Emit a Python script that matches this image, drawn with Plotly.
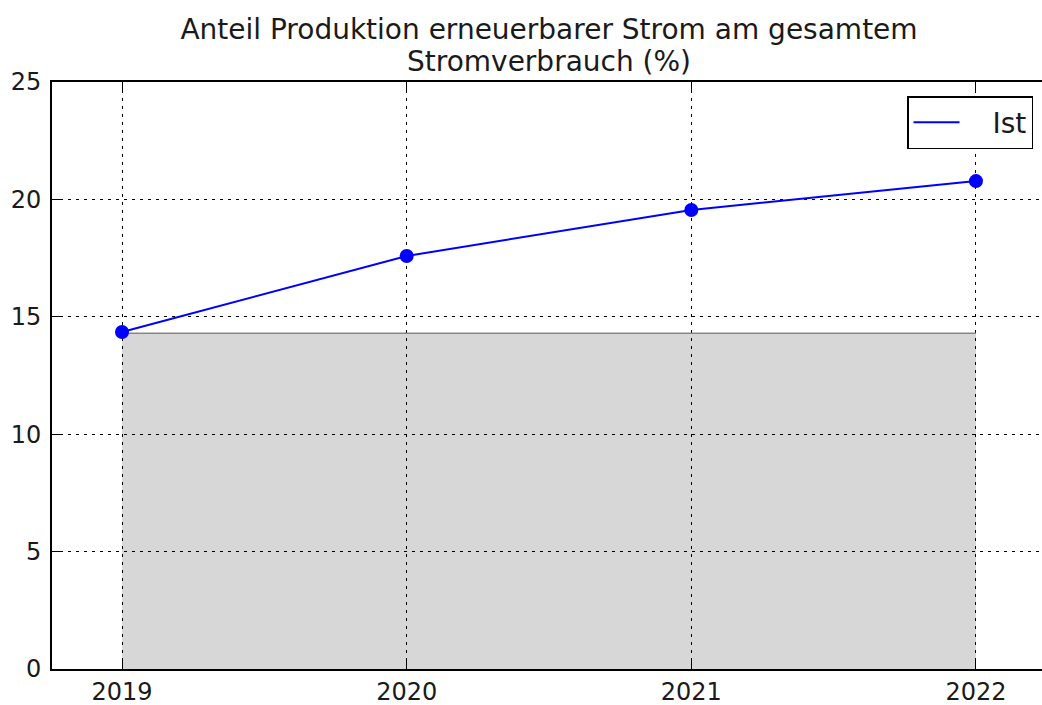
import plotly.graph_objects as go

years = [2019, 2020, 2021, 2022]
ist_values = [14.35, 17.59, 19.55, 20.78]
band_values = [14.3, 14.3, 14.3, 14.3]
y_ticks = [0, 5, 10, 15, 20, 25]
title_line1 = "Anteil Produktion erneuerbarer Strom am gesamtem"
title_line2 = "Stromverbrauch (%)"

fig = go.Figure()
fig.add_trace(go.Scatter(
    x=years, y=band_values, mode="lines", fill="tozeroy",
    fillcolor="rgba(0,0,0,0.155)", line=dict(color="rgba(110,110,110,0.8)", width=1.5),
    showlegend=False, hoverinfo="skip"))
fig.add_trace(go.Scatter(
    x=years, y=ist_values, mode="lines+markers", name="Ist", showlegend=False,
    line=dict(color="#0000ff", width=2), marker=dict(color="#0000ff", size=14)))
# legend entry: line only (as in the reference)
fig.add_trace(go.Scatter(
    x=[None], y=[None], mode="lines", name="\u2003Ist",
    line=dict(color="#0000ff", width=2)))

fig.update_layout(
    width=1042, height=705,
    margin=dict(l=52, r=0, t=82, b=36),
    paper_bgcolor="white", plot_bgcolor="white",
    font=dict(family="DejaVu Sans", color="#1a1a1a", size=24),
    title=dict(text=title_line1, x=549/1042, xref="container", xanchor="center",
               y=1 - 29/705, yref="container", yanchor="middle", font=dict(size=28)),
    annotations=[dict(text=title_line2, x=(549 - 52) / 990, xref="paper", y=(669 - 61) / 587,
                      yref="paper", xanchor="center", yanchor="middle", showarrow=False,
                      font=dict(size=28))],
    legend=dict(x=(1033 - 52) / 990, xanchor="right", y=1 - 14/587, yanchor="top",
                bordercolor="black", borderwidth=1.5, bgcolor="white",
                font=dict(size=28), itemwidth=46),
    xaxis=dict(range=[2018.754, 2022.232], tickvals=years, ticktext=[str(y) for y in years],
               showline=True, linecolor="black", linewidth=2, mirror="allticks",
               ticks="inside", ticklen=8, tickcolor="black",
               showgrid=True, gridcolor="black", griddash="3px,5px", gridwidth=1,
               zeroline=False),
    yaxis=dict(range=[0, 25], tickvals=y_ticks,
               showline=True, linecolor="black", linewidth=2, mirror=False,
               ticks="inside", ticklen=8, tickcolor="black", ticklabelstandoff=4,
               showgrid=True, gridcolor="black", griddash="3px,5px", gridwidth=1,
               zeroline=False),
)
fig.write_html("out.html", config={"displayModeBar": False},
               post_script="document.body.style.margin='0';document.body.style.overflow='hidden';")
